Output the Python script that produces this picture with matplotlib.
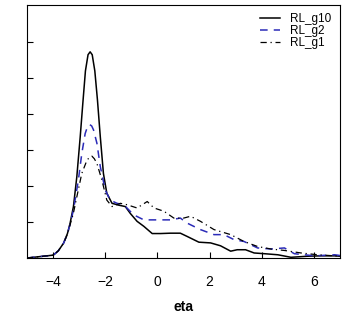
import matplotlib
matplotlib.use("Agg")
import matplotlib.pyplot as plt

plt.rcParams['font.family'] = ['Liberation Sans', 'DejaVu Sans']

# RL_g10 (solid black)
g10_x = [-5.0, -4.5, -3.99, -3.8, -3.6, -3.45, -3.35, -3.22, -3.09, -2.96, -2.86,
         -2.76, -2.66, -2.58, -2.5, -2.4, -2.3, -2.19, -2.07, -1.94, -1.74, -1.49,
         -1.23, -1.04, -0.78, -0.52, -0.2, 0.12, 0.5, 0.88, 1.14, 1.59, 2.04, 2.42,
         2.81, 3.06, 3.38, 3.71, 4.1, 4.62, 5.12, 5.77, 6.28, 6.8, 7.0]
g10_y = [0.0, 0.04, 0.08, 0.2, 0.41, 0.68, 0.96, 1.43, 2.26, 3.37, 4.3,
         5.2, 5.65, 5.73, 5.65, 5.2, 4.4, 3.37, 2.35, 1.8, 1.52, 1.47,
         1.43, 1.24, 1.02, 0.88, 0.68, 0.68, 0.69, 0.69, 0.6, 0.44, 0.42, 0.34,
         0.19, 0.23, 0.23, 0.14, 0.12, 0.09, 0.02, 0.05, 0.06, 0.06, 0.05]

# RL_g2 (blue dashed)
g2_x = [-5.0, -4.5, -3.99, -3.8, -3.6, -3.45, -3.35, -3.22, -3.03, -2.9, -2.77,
        -2.68, -2.6, -2.52, -2.45, -2.32, -2.19, -2.0, -1.81, -1.55, -1.29, -0.91,
        -0.52, 0.01, 0.5, 0.88, 1.14, 1.65, 2.17, 2.55, 2.94, 3.32, 3.84, 4.36,
        4.87, 5.25, 6.03, 6.8, 7.0]
g2_y = [0.0, 0.04, 0.08, 0.2, 0.41, 0.67, 0.94, 1.33, 2.17, 2.9, 3.46,
        3.65, 3.71, 3.67, 3.56, 3.19, 2.54, 1.89, 1.61, 1.52, 1.48, 1.2,
        1.06, 1.06, 1.06, 1.11, 0.97, 0.79, 0.65, 0.65, 0.51, 0.46, 0.28, 0.25,
        0.28, 0.12, 0.06, 0.09, 0.07]

# RL_g1 (black dash-dot)
g1_x = [-5.0, -4.5, -3.99, -3.8, -3.6, -3.45, -3.35, -3.22, -3.09, -2.9, -2.7,
        -2.6, -2.51, -2.42, -2.32, -2.13, -1.94, -1.74, -1.42, -1.16, -0.78, -0.39,
        -0.13, 0.25, 0.63, 1.01, 1.27, 1.65, 2.17, 2.81, 3.32, 3.84, 4.36, 4.87,
        5.51, 6.15, 6.8, 7.0]
g1_y = [0.0, 0.04, 0.08, 0.2, 0.41, 0.66, 0.92, 1.25, 1.7, 2.35, 2.72,
        2.8, 2.83, 2.76, 2.63, 2.17, 1.61, 1.43, 1.52, 1.48, 1.39, 1.57,
        1.39, 1.3, 1.11, 1.11, 1.16, 1.02, 0.79, 0.65, 0.46, 0.32, 0.25, 0.21,
        0.14, 0.09, 0.06, 0.05]

xticks = [-4, -2, 0, 2, 4, 6]

fig = plt.figure(figsize=(3.42, 3.16), dpi=100)
ax = fig.add_axes([0.079, 0.1835, 0.915, 0.8005])

ax.plot(g10_x, g10_y, color='black', lw=1.1, label='RL_g10')
ax.plot(g2_x, g2_y, color='#2b2bb8', lw=1.1, ls=(0, (5, 4)), label='RL_g2')
ax.plot(g1_x, g1_y, color='black', lw=0.9, ls=(0, (5, 3, 1, 3)), label='RL_g1')

ax.set_xlim(-5, 7)
ax.set_ylim(0, 7.03)
ax.set_xticks(xticks)
ax.set_xticklabels(['\u2212%d' % -t if t < 0 else str(t) for t in xticks])
ax.set_yticks([1, 2, 3, 4, 5, 6])
ax.set_yticklabels([])
ax.tick_params(direction='in', length=4, width=0.8, labelsize=10, pad=12)
ax.set_xlabel('eta', fontsize=10, fontweight='bold', labelpad=8)

ax.legend(loc='upper right', frameon=False, fontsize=8.5, handlelength=1.7,
          labelspacing=0.0, borderaxespad=0.3, handletextpad=0.9)

fig.savefig('out.png', dpi=100)
